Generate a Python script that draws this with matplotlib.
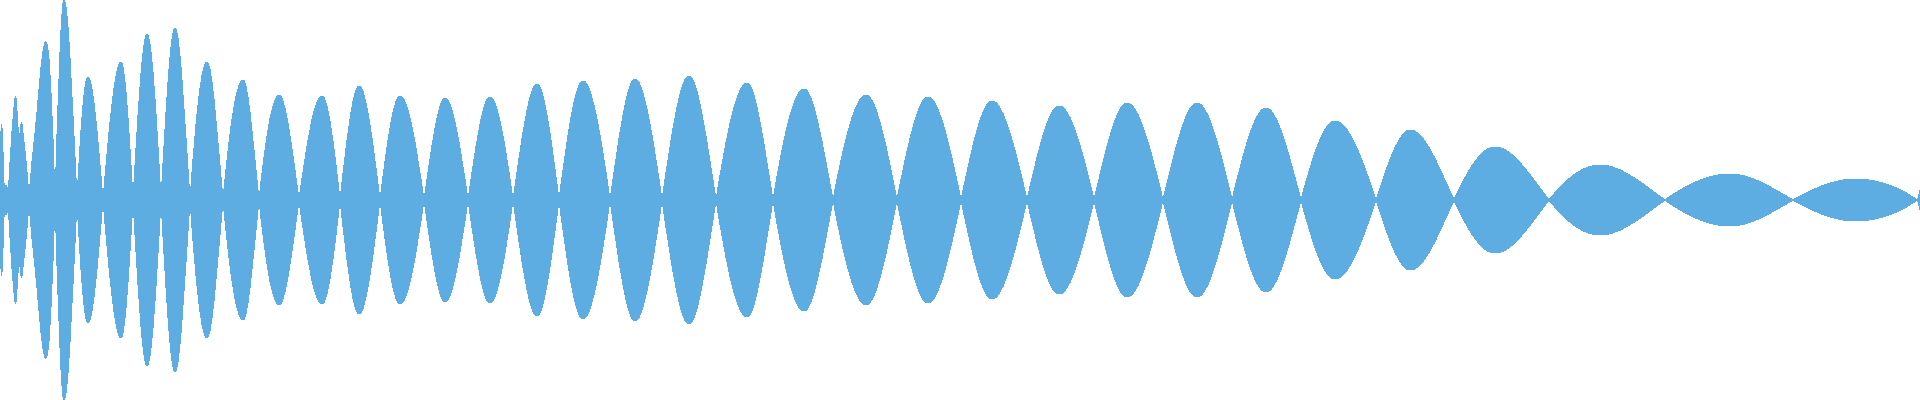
import matplotlib
matplotlib.use("Agg")
import matplotlib.pyplot as plt
from matplotlib.path import Path
from matplotlib.patches import PathPatch

# wave samples: x position (px units) and signed amplitude
xs = [0, 2, 4.5, 6.5, 8, 15, 19, 22, 29, 37, 48, 55, 64, 77, 88, 103,
      121, 133, 147, 161, 175, 190, 207, 223, 243, 259, 279, 299, 322, 340,
      359, 380, 400, 424, 445, 468, 490, 513, 537, 559, 583, 610, 635, 662,
      689, 716, 747, 773, 804, 833, 866, 897, 928, 961, 992, 1027, 1059, 1094,
      1127, 1163, 1197, 1232, 1266, 1301, 1335, 1376, 1410, 1454, 1495, 1549,
      1600, 1665, 1730, 1793, 1855, 1917, 1920]
ys = [50, 72, 0, -14, 0, 102, 63, 76, 0, -88, -150, 0, 200, 0, -123, 0,
      138, 0, -166, 0, 172, 0, -138, 0, 120, 0, -105, 0, 104, 0,
      -114, 0, 104, 0, -102, 0, 103, 0, -116, 0, 119, 0, -121, 0,
      124, 0, -117, 0, 111, 0, -105, 0, 103, 0, -99, 0, 94, 0,
      -97, 0, 97, 0, -92, 0, 79, 0, -70, 0, 53, 0,
      -35, 0, 26, 0, -21, 0, 10]

color = "#5DADE2"
tension = 1.5


def curve(xv, yv):
    # smooth hermite curve through the samples, as bezier segments
    n = len(xv)
    slopes = []
    for i in range(n):
        a = max(i - 1, 0)
        b = min(i + 1, n - 1)
        slopes.append(tension * (yv[b] - yv[a]) / (xv[b] - xv[a]))
    verts = [(xv[0], yv[0])]
    for i in range(n - 1):
        d = (xv[i + 1] - xv[i]) / 3.0
        verts.append((xv[i] + d, yv[i] + slopes[i] * d))
        verts.append((xv[i + 1] - d, yv[i + 1] - slopes[i + 1] * d))
        verts.append((xv[i + 1], yv[i + 1]))
    return verts


top = curve(xs, ys)
bottom = [(vx, -vy) for vx, vy in reversed(top)]
verts = top + bottom + [top[0]]
codes = ([Path.MOVETO] + [Path.CURVE4] * (len(top) - 1)
         + [Path.LINETO] + [Path.CURVE4] * (len(bottom) - 1) + [Path.CLOSEPOLY])

fig = plt.figure(figsize=(19.2, 4), dpi=100)
ax = fig.add_axes([0, 0, 1, 1])
ax.add_patch(PathPatch(Path(verts, codes), facecolor=color, edgecolor="none",
                       lw=0, antialiased=False))
ax.set_xlim(0, 1920)
ax.set_ylim(-200, 200)
ax.axis("off")
fig.savefig("out.png", dpi=100, facecolor="white")
